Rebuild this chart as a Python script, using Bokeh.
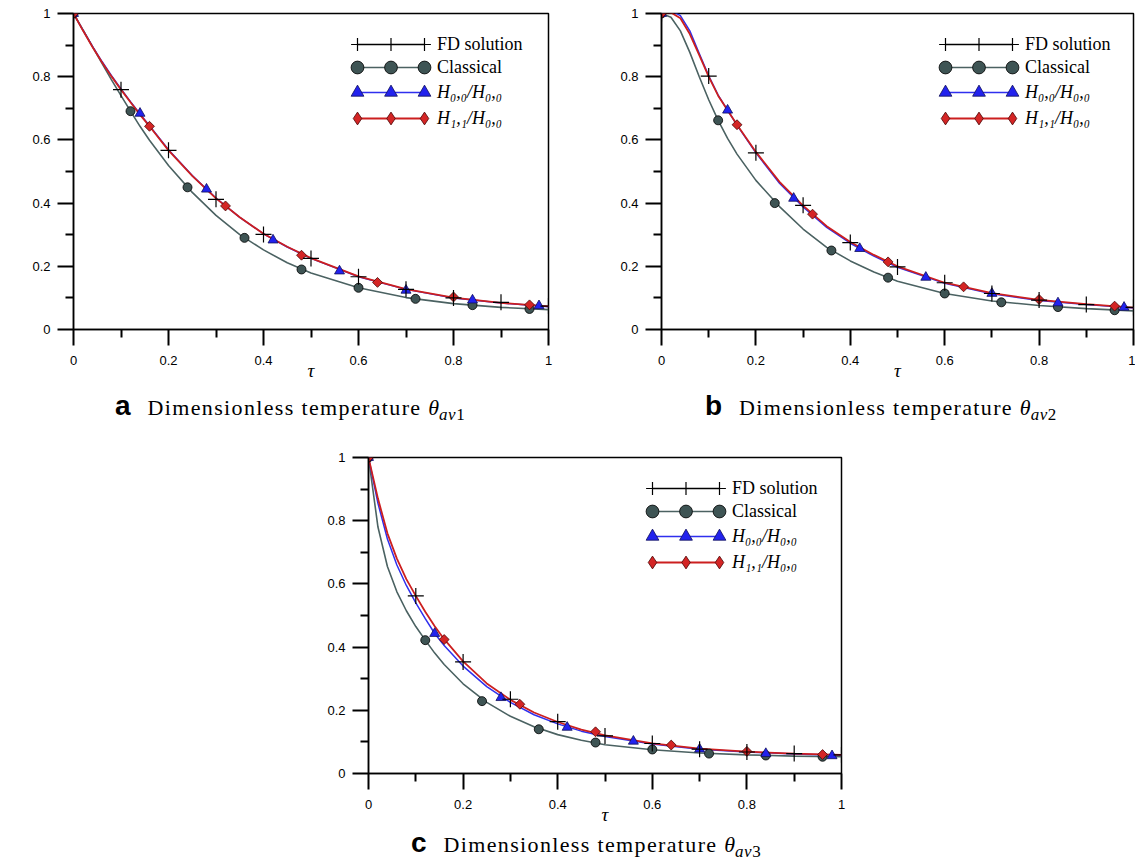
import math
from bokeh.plotting import figure
from bokeh.models import (Range1d, FixedTicker, Legend, LegendItem, Label, Div, Spacer,
                          CDSView, IndexFilter, ColumnDataSource, LinearAxis)
from bokeh.layouts import row, column
from bokeh.embed import file_html
from bokeh.resources import INLINE

# ---------------- data ----------------
tick_vals = [0, 0.2, 0.4, 0.6, 0.8, 1]
tick_labels = ["0", "0.2", "0.4", "0.6", "0.8", "1"]
minor_vals = [0.1, 0.3, 0.5, 0.7, 0.9]

curve_t = [0, 0.02, 0.04, 0.06, 0.08, 0.10, 0.12, 0.14, 0.16, 0.20, 0.25,
           0.30, 0.35, 0.40, 0.45, 0.50, 0.60, 0.70, 0.80, 0.90, 1.00]

fd_t = [0, 0.1, 0.2, 0.3, 0.4, 0.5, 0.6, 0.7, 0.8, 0.9, 1.0]
cl_t = [0, 0.12, 0.24, 0.36, 0.48, 0.60, 0.72, 0.84, 0.96]
h0_t = [0, 0.14, 0.28, 0.42, 0.56, 0.70, 0.84, 0.98]
h1_t = [0, 0.16, 0.32, 0.48, 0.64, 0.80, 0.96]

# panel a : theta_av1
fd_a = [1.0, 0.759, 0.567, 0.412, 0.301, 0.225, 0.167, 0.127, 0.100, 0.086, 0.074]
cl_a = [1.0, 0.691, 0.450, 0.290, 0.190, 0.132, 0.097, 0.077, 0.065]
h0_a = [1.0, 0.684, 0.444, 0.283, 0.185, 0.124, 0.093, 0.075]
h1_a = [1.0, 0.643, 0.391, 0.235, 0.149, 0.103, 0.078]
cl_curve_a = [1.0, 0.948, 0.895, 0.842, 0.790, 0.740, 0.691, 0.643, 0.599, 0.519, 0.434,
              0.361, 0.300, 0.252, 0.211, 0.179, 0.132, 0.101, 0.082, 0.070, 0.063]
h0_curve_a = [1.0, 0.947, 0.896, 0.848, 0.803, 0.761, 0.721, 0.682, 0.645, 0.569, 0.487,
              0.416, 0.355, 0.303, 0.261, 0.225, 0.167, 0.127, 0.100, 0.084, 0.072]
h1_curve_a = [1.0, 0.946, 0.894, 0.846, 0.801, 0.759, 0.719, 0.680, 0.643, 0.567, 0.486,
              0.415, 0.355, 0.303, 0.262, 0.226, 0.168, 0.128, 0.101, 0.084, 0.073]

# panel b : theta_av2
fd_b = [1.0, 0.802, 0.559, 0.393, 0.275, 0.198, 0.148, 0.114, 0.093, 0.079, 0.070]
cl_b = [1.0, 0.662, 0.400, 0.250, 0.164, 0.114, 0.086, 0.071, 0.061]
h0_b = [1.0, 0.694, 0.415, 0.256, 0.165, 0.114, 0.084, 0.070]
h1_b = [1.0, 0.648, 0.365, 0.214, 0.135, 0.095, 0.074]
cl_curve_b = [1.0, 0.988, 0.945, 0.877, 0.800, 0.727, 0.662, 0.605, 0.555, 0.472, 0.389,
              0.318, 0.260, 0.217, 0.182, 0.153, 0.114, 0.090, 0.076, 0.066, 0.059]
h0_curve_b = [1.0, 1.010, 0.993, 0.945, 0.873, 0.803, 0.742, 0.694, 0.647, 0.559, 0.463,
              0.388, 0.323, 0.273, 0.232, 0.197, 0.146, 0.113, 0.092, 0.079, 0.068]
h1_curve_b = [1.0, 1.003, 0.985, 0.935, 0.868, 0.800, 0.740, 0.694, 0.648, 0.562, 0.467,
              0.392, 0.327, 0.277, 0.236, 0.200, 0.148, 0.115, 0.094, 0.080, 0.069]

# panel c : theta_av3
fd_c = [1.0, 0.562, 0.353, 0.235, 0.164, 0.119, 0.095, 0.077, 0.068, 0.063, 0.059]
cl_c = [1.0, 0.422, 0.229, 0.140, 0.098, 0.076, 0.063, 0.057, 0.053]
h0_c = [1.0, 0.443, 0.240, 0.146, 0.102, 0.077, 0.063, 0.056]
h1_c = [1.0, 0.424, 0.219, 0.132, 0.090, 0.070, 0.060]
cl_curve_c = [1.0, 0.780, 0.655, 0.575, 0.515, 0.465, 0.422, 0.381, 0.345, 0.284, 0.225,
              0.181, 0.148, 0.123, 0.105, 0.091, 0.075, 0.065, 0.059, 0.055, 0.053]
h0_curve_c = [1.0, 0.855, 0.742, 0.660, 0.595, 0.540, 0.490, 0.443, 0.405, 0.340, 0.275,
              0.225, 0.186, 0.157, 0.134, 0.117, 0.093, 0.077, 0.068, 0.062, 0.058]
h1_curve_c = [1.0, 0.870, 0.760, 0.680, 0.615, 0.562, 0.512, 0.466, 0.425, 0.355, 0.285,
              0.233, 0.193, 0.163, 0.139, 0.121, 0.095, 0.079, 0.069, 0.063, 0.059]

legend_labels = ["FD solution", "Classical", "H\u2080,\u2080/H\u2080,\u2080", "H\u2081,\u2081/H\u2080,\u2080"]
caption_text = "Dimensionless temperature"

# ---------------- styles ----------------
SANS = "Liberation Sans"
SERIF = "Liberation Serif"
CL_LINE = "#4b6262"
CL_FILL = "#3e5454"
BLUE_LINE = "#2f2fee"
BLUE_FILL = "#2222ee"
RED_LINE = "#cc1f1f"
RED_FILL = "#d42525"
FRAME_H = 316
ROW_CENTERS = [31, 54, 79, 105]   # legend row centres below the frame top (px)
LEG_X0, LEG_X1 = 284, 351          # first / last legend symbol centre from frame left (px)


def style_axis(ax, is_x):
    ax.ticker = FixedTicker(ticks=tick_vals, minor_ticks=minor_vals)
    ax.major_label_overrides = dict(zip(tick_vals, tick_labels))
    ax.axis_line_width = 1.5
    ax.axis_line_color = "black"
    ax.major_tick_line_width = 2
    ax.minor_tick_line_width = 2
    ax.major_tick_line_color = "black"
    ax.minor_tick_line_color = "black"
    ax.major_tick_in = 0
    ax.minor_tick_in = 0
    ax.major_tick_out = 16
    ax.minor_tick_out = 8
    ax.major_label_text_font = SANS
    ax.major_label_text_font_size = "13px"
    ax.major_label_text_color = "black"
    if is_x:
        ax.major_label_standoff = 10
        ax.axis_label = "\u03c4"
        ax.axis_label_text_font = SERIF
        ax.axis_label_text_font_style = "italic"
        ax.axis_label_text_font_size = "19px"
        ax.axis_label_standoff = -8
        ax.axis_label_text_color = "black"
    else:
        ax.major_label_standoff = 7


def add_legend_row(p, label, line_r, marker_r, fstyle, yc):
    gh = 32
    y = FRAME_H - yc - gh // 2
    common = dict(glyph_height=gh, padding=0, margin=0, spacing=0,
                  background_fill_alpha=0, border_line_alpha=0,
                  label_text_font=SERIF, label_text_font_size="18px",
                  label_text_font_style=fstyle, label_text_color="black",
                  label_text_baseline="middle")
    main = Legend(items=[LegendItem(label=label, renderers=[line_r, marker_r])],
                  location=(LEG_X0, y), glyph_width=LEG_X1 - LEG_X0, label_standoff=13,
                  **common)
    p.add_layout(main, "center")
    # the two outer symbols of the legend sample
    for cx in (LEG_X0, LEG_X1):
        side = Legend(items=[LegendItem(label=" ", renderers=[marker_r])],
                      location=(cx - gh // 2, y), glyph_width=gh, label_standoff=0,
                      **common)
        p.add_layout(side, "center")


def make_panel(frame_w, b_left, b_right, b_top, fd_v, cl_v, cl_curve, h0_v, h0_curve,
               h1_v, h1_curve, sub):
    p = figure(frame_width=frame_w, frame_height=FRAME_H,
               x_range=Range1d(0, 1), y_range=Range1d(0, 1),
               x_axis_location=None, y_axis_location=None,
               output_backend="svg", toolbar_location=None, tools="")
    p.min_border_left = b_left
    p.min_border_right = b_right
    p.min_border_top = b_top
    p.min_border_bottom = 64
    p.background_fill_color = "white"
    p.border_fill_color = "white"
    p.outline_line_color = "black"
    p.outline_line_width = 1.5
    p.grid.visible = False
    xa = LinearAxis()
    ya = LinearAxis()
    style_axis(xa, True)
    style_axis(ya, False)
    p.add_layout(xa, "below")
    p.add_layout(ya, "left")

    # curves
    cl_line = p.line(curve_t, cl_curve, line_color=CL_LINE, line_width=1.6)
    h0_line = p.line(curve_t, h0_curve, line_color=BLUE_LINE, line_width=1.5)
    h1_line = p.line(curve_t, h1_curve, line_color=RED_LINE, line_width=1.8)
    # FD is shown by its symbols only; its line appears in the legend only
    fd_src = ColumnDataSource(data=dict(x=fd_t, y=fd_v))
    fd_line = p.line("x", "y", source=fd_src, line_color="black", line_width=1.3,
                     view=CDSView(filter=IndexFilter(indices=[0])))

    # markers
    cl_sc = p.scatter(cl_t, cl_v, marker="circle", size=9, fill_color=CL_FILL,
                      line_color="black", line_width=0.8)
    h0_sc = p.scatter(h0_t, h0_v, marker="triangle", size=10, fill_color=BLUE_FILL,
                      line_color="#10105a", line_width=0.8)
    h1_src = ColumnDataSource(data=dict(x=h1_t, y=h1_v))
    h1_leg = p.scatter("x", "y", source=h1_src, marker="diamond", size=10,
                       fill_color=RED_FILL, line_color="#4a0808", line_width=0.8,
                       view=CDSView(filter=IndexFilter(indices=[0])))
    h1_sc = p.scatter(h1_t, h1_v, marker="square", angle=math.pi / 4, size=7,
                      fill_color=RED_FILL, line_color="#4a0808", line_width=0.8)
    fd_sc = p.scatter(fd_t, fd_v, marker="cross", size=16, line_color="black",
                      line_width=1.2)

    entries = [(legend_labels[0], fd_line, fd_sc, "normal"),
               (legend_labels[1], cl_line, cl_sc, "normal"),
               (legend_labels[2], h0_line, h0_sc, "italic"),
               (legend_labels[3], h1_line, h1_leg, "italic")]
    for (lab, lr, mr, fstyle), yc in zip(entries, ROW_CENTERS):
        add_legend_row(p, lab, lr, mr, fstyle, yc)

    # y-axis label theta_av#
    p.add_layout(Label(x=-55 / frame_w, y=0.468, text="\u03b8", angle=math.pi / 2,
                       text_align="center", text_baseline="middle", text_font=SERIF,
                       text_font_style="italic", text_font_size="17px", text_color="black"))
    p.add_layout(Label(x=-51 / frame_w, y=0.518, text="av" + sub, angle=math.pi / 2,
                       text_align="center", text_baseline="middle", text_font=SANS,
                       text_font_size="11px", text_color="black"))
    return p


def caption(letter, sub, width, height, m_left, m_top):
    html = (
        f'<div style="margin-left:{m_left}px;margin-top:{m_top}px;white-space:nowrap;'
        f'line-height:22px;color:#000;">'
        f'<span style="font-family:\'{SANS}\';font-weight:bold;font-size:28px;">{letter}</span>'
        f'<span style="font-family:\'{SERIF}\';font-size:22px;margin-left:17px;'
        f'letter-spacing:1.35px;">{caption_text} '
        f'<i style="letter-spacing:0;">\u03b8</i><sub style="font-size:17px;letter-spacing:0.5px;">'
        f'<i>av</i>{sub}</sub></span></div>'
    )
    return Div(text=html, width=width, height=height, margin=0)


pa = make_panel(475, 73, 20, 13, fd_a, cl_a, cl_curve_a, h0_a, h0_curve_a, h1_a, h1_curve_a, "1")
pb = make_panel(472, 93, 2, 13, fd_b, cl_b, cl_curve_b, h0_b, h0_curve_b, h1_b, h1_curve_b, "2")
pc = make_panel(473, 73, 20, 10, fd_c, cl_c, cl_curve_c, h0_c, h0_curve_c, h1_c, h1_curve_c, "3")

ca = caption("a", "1", 568, 54, 115, 2)
cb = caption("b", "2", 567, 54, 137, 2)
cc = caption("c", "3", 566, 27, 116, -5)

layout = column(
    row(column(pa, ca), column(pb, cb)),
    row(Spacer(width=295, height=10, margin=0), column(pc, cc)),
)

open("out.html", "w").write(file_html(layout, INLINE))
